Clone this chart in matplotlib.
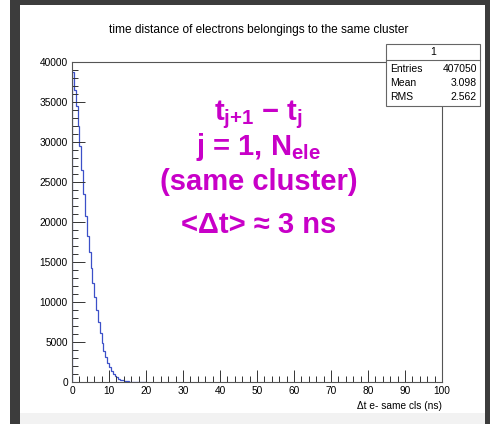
"""Recreate the ROOT-style histogram of electron time distances inside a cluster."""

import matplotlib

matplotlib.use("Agg")
import matplotlib.pyplot as plt
import numpy as np
from matplotlib.patches import Rectangle
from matplotlib.ticker import MultipleLocator

plt.rcParams["font.family"] = ["Liberation Sans", "DejaVu Sans"]
plt.rcParams["mathtext.fontset"] = "custom"
plt.rcParams["mathtext.rm"] = "Liberation Sans:bold"
plt.rcParams["mathtext.it"] = "Liberation Sans:bold"
plt.rcParams["mathtext.bf"] = "Liberation Sans:bold"

# histogram: 0.5 ns bins starting at 0, counts
bin_width = 0.5
counts = [
    38700, 36500, 34500, 32000, 29500, 26500, 23500, 20800, 18300, 16200,
    14200, 12400, 10600, 9000, 7500, 6100, 4900, 3900, 3100, 2400,
    1850, 1400, 1050, 780, 570, 410, 290, 200, 140, 95,
    65, 42, 27, 17, 10, 6, 3, 2, 0, 0,
]
title = "time distance of electrons belongings to the same cluster"
x_label = "\u0394t e- same cls (ns)"
stats_name = "1"
stats_rows = [("Entries", "407050"), ("Mean", "3.098"), ("RMS", "2.562")]
note_lines = [
    "t$_{j{+}1}$ \u2212 t$_{j}$",
    "j = 1, N$_{ele}$",
    "(same cluster)",
    "<\u0394t> \u2248 3 ns",
]

W, H = 490, 424
fig = plt.figure(figsize=(W / 100, H / 100), dpi=100)

# screenshot frame (pixel coordinates)
bg = fig.add_axes([0, 0, 1, 1], zorder=0)
bg.set_xlim(0, W)
bg.set_ylim(H, 0)
bg.axis("off")
bg.add_patch(Rectangle((20, 413), 465, 11, color="#f2f2f2", lw=0))
bg.add_patch(Rectangle((10, 0), 10, H, color="#3c3c3c", lw=0))
bg.add_patch(Rectangle((20, 0), 470, 5, color="#3c3c3c", lw=0))
bg.add_patch(Rectangle((485, 0), 5, H, color="#3c3c3c", lw=0))

# main histogram axes
x0, x1, y0, y1 = 72, 442, 62, 382
ax = fig.add_axes([x0 / W, 1 - y1 / H, (x1 - x0) / W, (y1 - y0) / H], zorder=1)
ax.patch.set_alpha(0)
edges = np.arange(len(counts) + 1) * bin_width
ax.stairs(counts, edges, color="#3c50c8", lw=0.9)
ax.set_xlim(0, 100)
ax.set_ylim(0, 40000)
ax.xaxis.set_major_locator(MultipleLocator(10))
ax.xaxis.set_minor_locator(MultipleLocator(2))
ax.yaxis.set_major_locator(MultipleLocator(5000))
ax.yaxis.set_minor_locator(MultipleLocator(1000))
ax.tick_params(which="both", direction="in", labelsize=7.3, width=0.7, color="#333333")
ax.tick_params(which="major", length=9, pad=3)
ax.tick_params(which="minor", length=4.5)
for s in ax.spines.values():
    s.set_linewidth(0.8)
    s.set_color("#555555")

# overlay: title, axis label, stats box and annotation
ov = fig.add_axes([0, 0, 1, 1], zorder=2)
ov.set_xlim(0, W)
ov.set_ylim(H, 0)
ov.axis("off")
ov.text(259, 30, title, ha="center", va="center", fontsize=8.6)
ov.text(442, 406, x_label, ha="right", va="center", fontsize=7.3)

bx0, bx1, by0, by1, bdiv = 386, 480, 44, 106, 60
ov.add_patch(Rectangle((bx0, by0), bx1 - bx0, by1 - by0, facecolor="white",
                       edgecolor="#666666", lw=0.8))
ov.plot([bx0, bx1], [bdiv, bdiv], color="#666666", lw=0.8)
ov.text((bx0 + bx1) / 2, (by0 + bdiv) / 2, stats_name, ha="center", va="center", fontsize=7.5)
for i, (name, val) in enumerate(stats_rows):
    y = 69 + i * 14
    ov.text(bx0 + 4, y, name, ha="left", va="center", fontsize=7.5)
    ov.text(bx1 - 3, y, val, ha="right", va="center", fontsize=7.5)

baselines = [120, 155, 190, 233]
for line, yb in zip(note_lines, baselines):
    ov.text(259, yb, line, ha="center", va="baseline", fontsize=21,
            fontweight="bold", color="#c800c8")

fig.savefig("out.png", dpi=100)
